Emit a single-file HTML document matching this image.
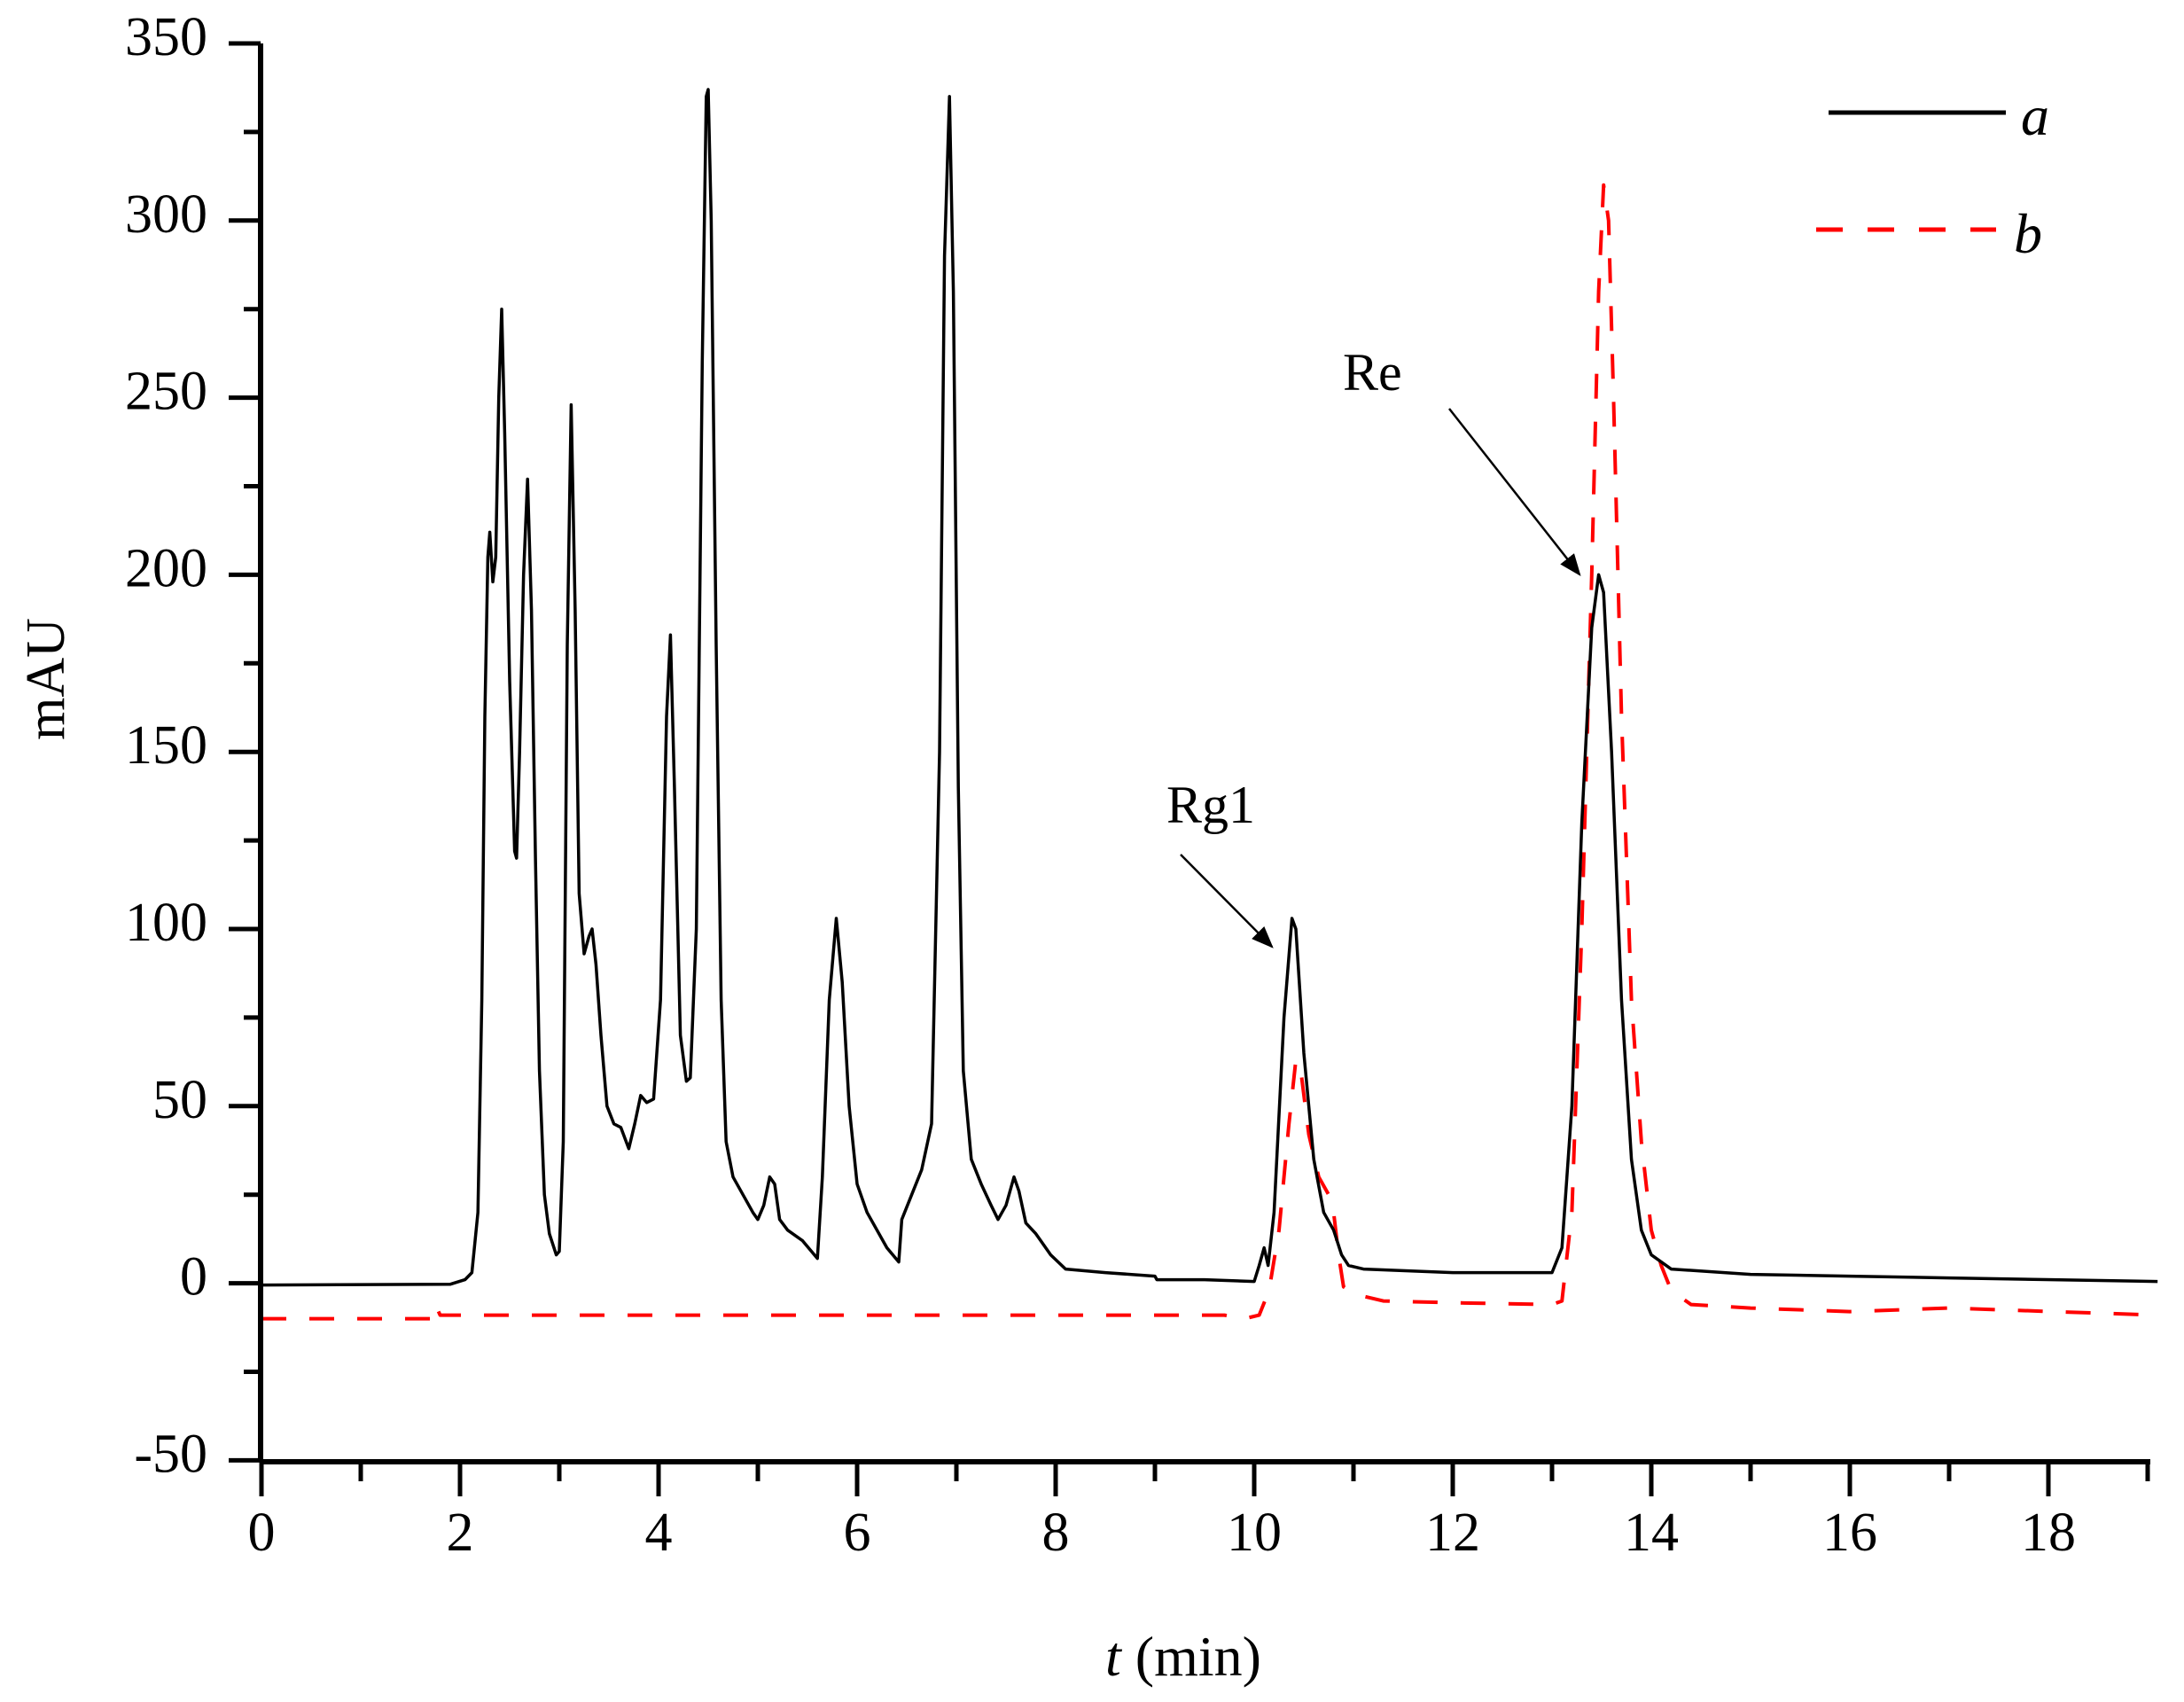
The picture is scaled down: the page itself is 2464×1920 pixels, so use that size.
<!DOCTYPE html>
<html><head><meta charset="utf-8"><style>
html,body{margin:0;padding:0;background:#fff}
svg{display:block}
text{font-family:"Liberation Serif",serif;fill:#000}
</style></head><body>
<svg id="s" width="2464" height="1920" viewBox="0 0 2464 1920" xmlns="http://www.w3.org/2000/svg">
<defs><marker id="ah" markerWidth="10" markerHeight="8" refX="9" refY="4" orient="auto" markerUnits="strokeWidth"><path d="M0,0 L10,4 L0,8 z" fill="#000"/></marker></defs>
<g id="ticks" stroke="#000" stroke-width="5" fill="none"></g>
<g id="labels" font-size="62"></g>
<path id="pb" fill="none" stroke="#ff0000" stroke-width="4" stroke-dasharray="28,26" stroke-linejoin="round"/>
<path id="pa" fill="none" stroke="#000" stroke-width="3.5" stroke-linejoin="round"/>
<line x1="294" y1="49" x2="294" y2="1649" stroke="#000" stroke-width="6"/>
<line x1="294" y1="1649" x2="2426" y2="1649" stroke="#000" stroke-width="6"/>
<line x1="2063" y1="127" x2="2263" y2="127" stroke="#000" stroke-width="5"/>
<line x1="2049" y1="259" x2="2252" y2="259" stroke="#ff0000" stroke-width="5" stroke-dasharray="30,28"/>
<text x="2280" y="152" font-size="64" font-style="italic">a</text>
<text x="2272" y="285" font-size="64" font-style="italic">b</text>
<text x="1515" y="440" font-size="60">Re</text>
<line x1="1635" y1="461" x2="1782" y2="648" stroke="#000" stroke-width="2.5" marker-end="url(#ah)"/>
<text x="1316" y="928" font-size="60">Rg1</text>
<line x1="1332" y1="964" x2="1435" y2="1068" stroke="#000" stroke-width="2.5" marker-end="url(#ah)"/>
<text x="58" y="766" font-size="62" text-anchor="middle" transform="rotate(-90 58 766)" dominant-baseline="middle">mAU</text>
<text x="1335" y="1890" font-size="64" text-anchor="middle"><tspan font-style="italic">t</tspan> (min)</text>
</svg>
<script>
var X=function(t){return 295+112*t},Y=function(v){return 49+(350-v)*3.996};
var tk=document.getElementById('ticks'),lb=document.getElementById('labels'),h='',l='';
for(var v=-50;v<=350;v+=25){var y=Y(v);var maj=(v%50===0);h+='<line x1="'+(maj?258:275)+'" y1="'+y+'" x2="294" y2="'+y+'"/>';
if(maj)l+='<text x="234" y="'+(y+13)+'" text-anchor="end">'+v+'</text>';}
for(var t=0;t<=19;t+=1){var x=X(t);var maj=(t%2===0);h+='<line x1="'+x+'" y1="1649" x2="'+x+'" y2="'+(maj?1688:1671)+'"/>';
if(maj)l+='<text x="'+x+'" y="1749" text-anchor="middle">'+t+'</text>';}
tk.innerHTML=h;lb.innerHTML=l;
function path(a){var d='';for(var i=0;i<a.length;i+=2){d+=(i?'L':'M')+X(a[i]).toFixed(1)+','+Y(a[i+1]).toFixed(1);}return d;}
var A=[0,-0.5,1.9,-0.3,2.05,1,2.12,3,2.18,20,2.22,80,2.25,160,2.28,205,2.30,212,2.33,198,2.36,205,2.39,250,2.42,275,2.45,240,2.5,170,2.55,122,2.57,120,2.6,150,2.64,200,2.68,227,2.72,190,2.76,120,2.8,60,2.85,25,2.9,14,2.97,8,3.0,9,3.04,40,3.08,180,3.12,248,3.16,190,3.2,110,3.25,93,3.3,98,3.33,100,3.37,90,3.42,70,3.48,50,3.55,45,3.62,44,3.7,38,3.76,45,3.82,53,3.88,51,3.95,52,4.02,80,4.08,160,4.12,183,4.16,140,4.22,70,4.28,57,4.32,58,4.38,100,4.44,260,4.48,335,4.5,337,4.53,300,4.58,180,4.63,80,4.68,40,4.75,30,4.85,25,4.95,20,5.0,18,5.06,22,5.12,30,5.17,28,5.22,18,5.3,15,5.45,12,5.6,7,5.65,30,5.72,80,5.79,103,5.85,85,5.92,50,6.0,28,6.1,20,6.3,10,6.42,6,6.45,18,6.55,25,6.65,32,6.75,45,6.83,150,6.88,290,6.93,335,6.97,280,7.02,140,7.07,60,7.15,35,7.25,28,7.35,22,7.42,18,7.5,22,7.58,30,7.63,26,7.7,17,7.8,14,7.95,8,8.1,4,8.5,3,9.0,2,9.02,1,9.5,1,10.0,0.5,10.05,5,10.1,10,10.14,5,10.2,20,10.3,75,10.38,103,10.42,100,10.5,65,10.6,35,10.7,20,10.8,15,10.88,8,10.95,5,11.1,4,12,3,13,3,13.1,10,13.2,50,13.3,130,13.4,185,13.47,200,13.52,195,13.6,150,13.7,80,13.8,35,13.9,15,14.0,8,14.2,4,15,2.5,16,2,17,1.5,19.1,0.5];
var B=[0,-10,1.7,-10,1.75,-6,1.8,-9,9.7,-9,9.9,-10,10.05,-9,10.15,-2,10.25,15,10.35,45,10.42,63,10.47,60,10.55,42,10.65,30,10.75,25,10.8,20,10.85,8,10.9,-1,11.0,-3,11.3,-5,12,-5.5,13,-6,13.1,-5,13.2,20,13.3,100,13.4,200,13.47,280,13.52,310,13.57,300,13.62,250,13.7,160,13.8,80,13.9,40,14.0,15,14.1,5,14.2,-2,14.4,-6,15,-7,16,-8,17,-7,19.1,-9];
document.getElementById('pa').setAttribute('d',path(A));
document.getElementById('pb').setAttribute('d',path(B));
</script>
</body></html>
